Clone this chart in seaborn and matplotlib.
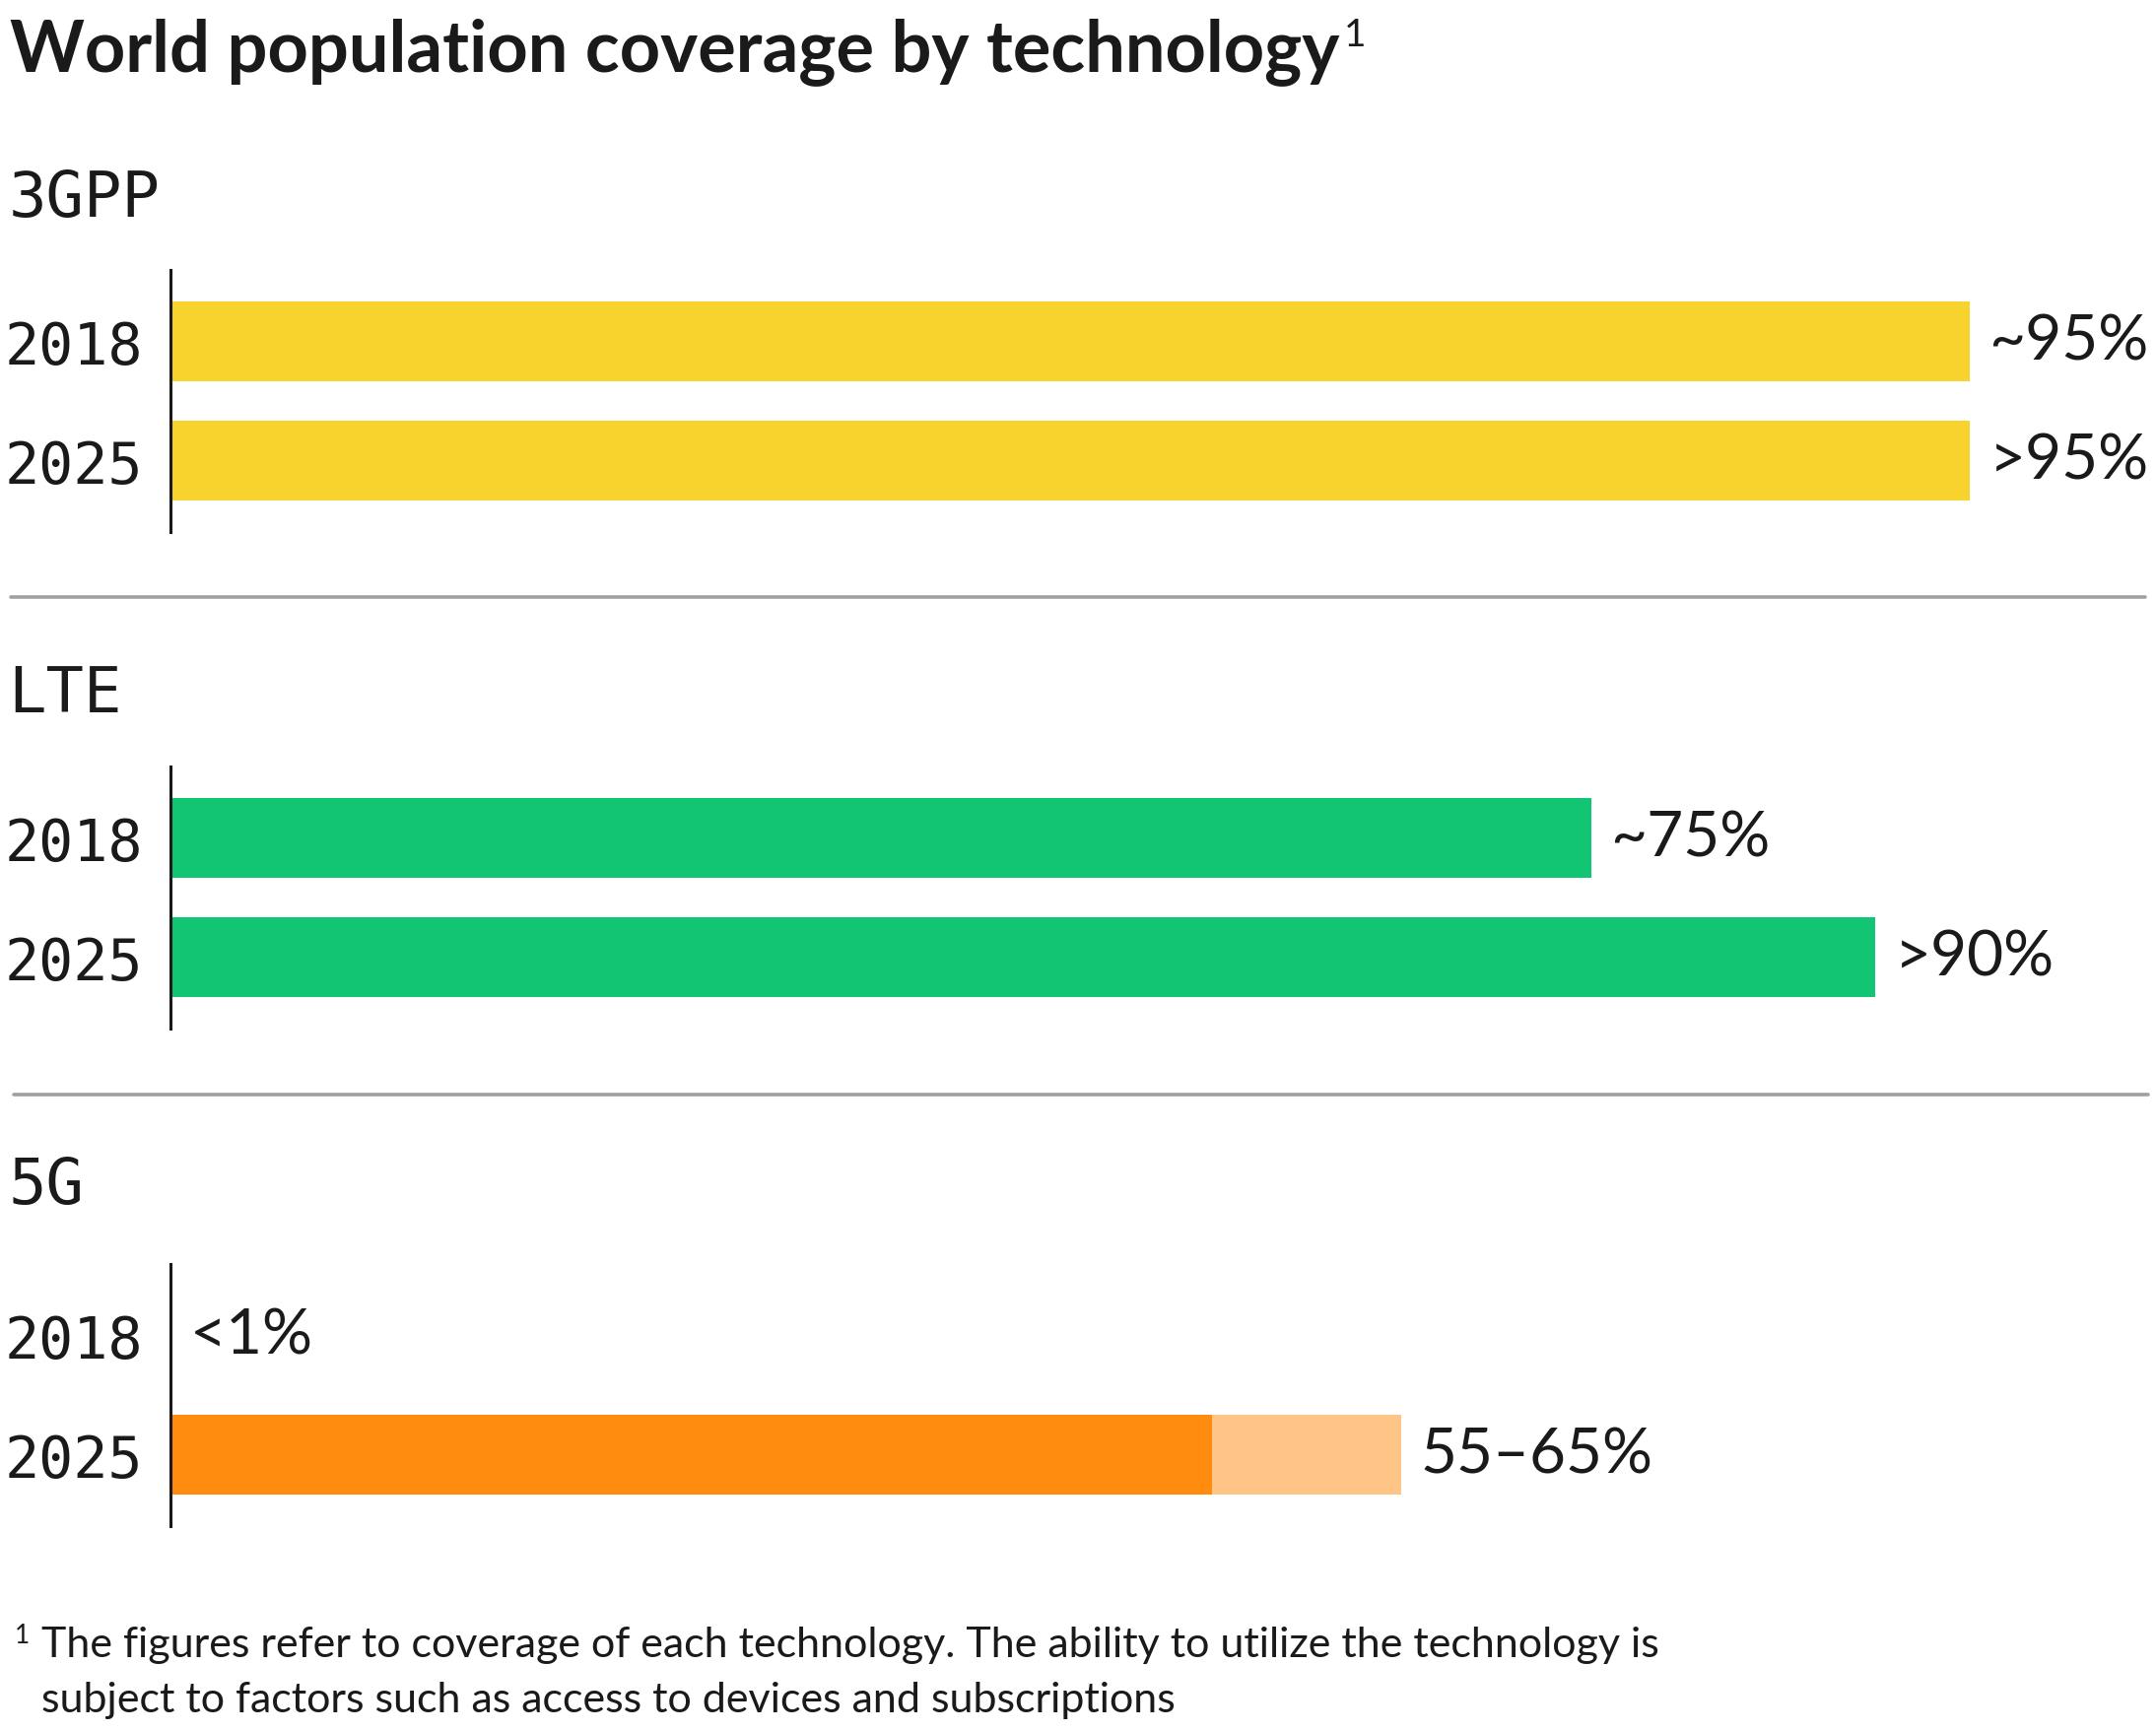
import matplotlib
matplotlib.use('Agg')
import matplotlib.pyplot as plt
import seaborn as sns
import pandas as pd
from matplotlib.lines import Line2D

# ---------- Data ----------
years = ['2018', '2025']
techs = ['3GPP', 'LTE', '5G']

gpp_cov = [95, 95]
lte_cov = [75, 90]
g5_low = [0, 55]
g5_high = [0, 65]

gpp_labels = ['~95%', '>95%']
lte_labels = ['~75%', '>90%']
g5_labels = ['<1%', '55\u201365%']

yellow = '#F8D32D'
green = '#12C573'
orange = '#FF8C0F'
light_orange = '#FFC587'

title = 'World population coverage by technology'
footnote_1 = 'The figures refer to coverage of each technology. The ability to utilize the technology is'
footnote_2 = 'subject to factors such as access to devices and subscriptions'

# ---------- Figure ----------
sns.set_theme(style='white')
plt.rcParams['font.family'] = ['Lato', 'DejaVu Sans']
mono = 'DejaVu Sans Mono'
ink = '#1a1a1a'

W, H = 1568.0, 1260.0   # layout grid in reference units
fig = plt.figure(figsize=(10.94, 8.79), dpi=200)


def fx(x):
    return x / W


def fy(y):
    return 1 - y / H


t = fig.text(fx(7), fy(38), title, fontsize=26, fontweight='bold', color=ink,
             va='center', ha='left')
fig.canvas.draw()
bb = t.get_window_extent().transformed(fig.transFigure.inverted())
fig.text(bb.x1 + 0.002, fy(26), '1', fontsize=14, color=ink, va='center', ha='left')

sections = [
    ('3GPP', 145, 197, [(gpp_cov, yellow)], gpp_labels),
    ('LTE', 505, 558, [(lte_cov, green)], lte_labels),
    ('5G', 863, 920, [(g5_high, light_orange), (g5_low, orange)], g5_labels),
]

ax_left = 124
ax_w = 1377.5   # pixel span for 0..100 %
ax_h = 191

for name, label_y, top, layers, labels in sections:
    fig.text(fx(6), fy(label_y), name, fontsize=23, family=mono, color=ink,
             va='center', ha='left')
    ax = fig.add_axes([fx(ax_left), fy(top + ax_h), ax_w / W, ax_h / H])
    first = None
    for vals, col in layers:
        df = pd.DataFrame({'year': years, 'coverage': vals})
        sns.barplot(data=df, x='coverage', y='year', orient='h', color=col,
                    saturation=1, width=0.667, ax=ax, linewidth=0)
        if first is None:
            first = ax.containers[-1]
    ax.bar_label(first, labels=labels, padding=7, fontsize=23, color=ink)
    ax.set_xlim(0, 100)
    ax.set_ylim(1.598, -0.598)
    ax.set_xlabel('')
    ax.set_ylabel('')
    ax.set_xticks([])
    for s in ['top', 'right', 'bottom']:
        ax.spines[s].set_visible(False)
    ax.spines['left'].set_color(ink)
    ax.spines['left'].set_linewidth(1.1)
    ax.tick_params(axis='y', length=0, pad=10)
    for tl in ax.get_yticklabels():
        tl.set_fontsize(21)
        tl.set_family(mono)
        tl.set_color(ink)
    ax.patch.set_alpha(0)

# separators
for y, x0, x1 in [(435, 8, 1560), (797, 10, 1562)]:
    fig.add_artist(Line2D([fx(x0), fx(x1)], [fy(y), fy(y)], color='#a0a0a0',
                          linewidth=1.3, transform=fig.transFigure))

# footnote
fig.text(fx(11), fy(1190), '1', fontsize=9.5, color=ink, va='center', ha='left')
fig.text(fx(30), fy(1197), footnote_1, fontsize=15.5, color=ink, va='center', ha='left')
fig.text(fx(30), fy(1237), footnote_2, fontsize=15.5, color=ink, va='center', ha='left')

fig.savefig('out.png', dpi=200)
